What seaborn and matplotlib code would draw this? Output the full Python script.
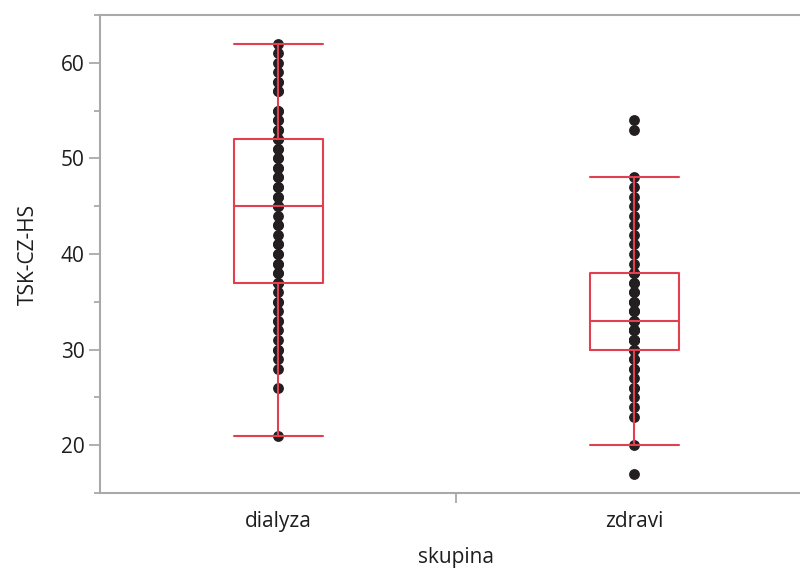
import numpy as np
import pandas as pd
import matplotlib
matplotlib.use("Agg")
import matplotlib.pyplot as plt
import seaborn as sns
from matplotlib.ticker import FixedLocator

# hodnoty (cela cisla) a jejich cetnosti
dialyza_vals = [21, 26, 28, 29, 30, 31, 32, 33, 34, 35, 36, 37, 38, 39, 40, 41, 42, 43, 44,
                45, 46, 47, 48, 49, 50, 51, 52, 53, 54, 55, 57, 58, 59, 60, 61, 62]
dialyza_counts = [1, 1, 1, 1, 2, 1, 1, 2, 1, 2, 1, 3, 2, 2, 2, 2, 1, 2, 1,
                  3, 2, 2, 2, 2, 2, 2, 3, 2, 2, 2, 2, 2, 1, 1, 1, 1]

zdravi_vals = [17, 20, 23, 24, 25, 26, 27, 28, 29, 30, 31, 32, 33, 34, 35, 36, 37, 38,
               39, 40, 41, 42, 43, 44, 45, 46, 47, 48, 53, 54]
zdravi_counts = [1, 1, 1, 1, 1, 2, 1, 2, 2, 3, 5, 5, 3, 3, 3, 2, 2, 3,
                 1, 1, 1, 1, 1, 1, 1, 1, 1, 1, 1, 1]

groups = ["dialyza", "zdravi"]

df = pd.DataFrame({
    "skupina": ["dialyza"] * sum(dialyza_counts) + ["zdravi"] * sum(zdravi_counts),
    "TSK-CZ-HS": np.concatenate([np.repeat(dialyza_vals, dialyza_counts),
                                 np.repeat(zdravi_vals, zdravi_counts)]),
})

sns.set_style("white")
plt.rcParams["font.family"] = ["Open Sans", "DejaVu Sans"]

red = "#E23F50"
gray = "#A9A9A9"
txt = "#1E1E1E"
fs = 15

fig = plt.figure(figsize=(8, 5.72), dpi=100)
ax = fig.add_axes([0.125, 0.138, 0.89, 0.836])

sns.stripplot(data=df, x="skupina", y="TSK-CZ-HS", order=groups, jitter=False,
              color="#231F20", size=7.8, linewidth=0, zorder=2, ax=ax)
sns.boxplot(data=df, x="skupina", y="TSK-CZ-HS", order=groups, width=0.25,
            fill=False, color=red, linewidth=1.5, showfliers=False,
            capwidths=0.25, zorder=3, ax=ax)

ax.set_xlim(-0.5, 1.5)
ax.set_ylim(15, 65)

# osy v JMP stylu
for side in ["left", "top", "bottom"]:
    ax.spines[side].set_visible(True)
    ax.spines[side].set_color(gray)
    ax.spines[side].set_linewidth(1.5)
ax.spines["right"].set_visible(False)

ax.yaxis.set_major_locator(FixedLocator([20, 30, 40, 50, 60]))
ax.yaxis.set_minor_locator(FixedLocator([15, 25, 35, 45, 55, 65]))
ax.tick_params(axis="y", which="major", left=True, length=8, width=1.3, color=gray,
               labelsize=fs, labelcolor=txt, pad=3)
ax.tick_params(axis="y", which="minor", left=True, length=4, width=1.3, color=gray)

ax.set_xticks([0, 1])
ax.set_xticklabels(groups)
ax.xaxis.set_minor_locator(FixedLocator([0.5]))
ax.tick_params(axis="x", which="major", bottom=True, length=0, labelsize=fs,
               labelcolor=txt, pad=13)
ax.tick_params(axis="x", which="minor", bottom=True, length=7, width=1.3, color=gray)

ax.set_xlabel("skupina", fontsize=fs, color=txt, labelpad=11)
ax.set_ylabel("TSK-CZ-HS", fontsize=fs, color=txt, labelpad=16)

fig.savefig("out.png", dpi=100)
